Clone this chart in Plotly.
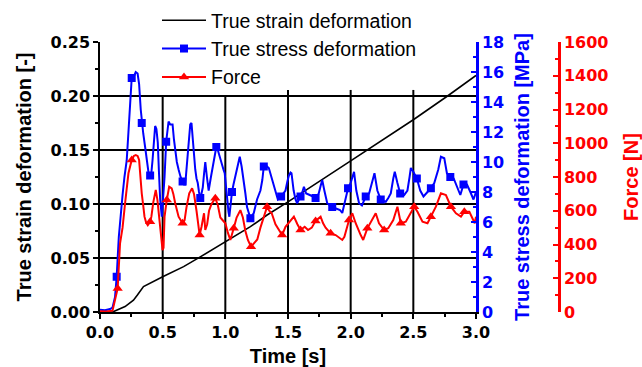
import numpy as np
import plotly.graph_objects as go

# ---- data ----
strain_t = [0.0, 0.1, 0.2, 0.267, 0.3, 0.347, 0.5, 0.667, 0.8, 1.0, 1.2, 1.333, 1.5,
            2.0, 2.24, 2.5, 2.773, 3.0]
strain = [0.0, 0.0, 0.005, 0.011, 0.016, 0.0235, 0.0327, 0.042, 0.051, 0.065, 0.079,
          0.0898, 0.102, 0.140, 0.158, 0.178, 0.200, 0.219]

stress_t = [0.00, 0.04, 0.08, 0.10, 0.12, 0.133, 0.15, 0.168, 0.18, 0.195, 0.213, 0.227,
            0.24, 0.253, 0.27, 0.285, 0.30, 0.312, 0.325, 0.333, 0.345, 0.36, 0.373, 0.387,
            0.40, 0.41, 0.419, 0.43, 0.44, 0.45, 0.461, 0.47, 0.48, 0.493, 0.505, 0.515,
            0.528, 0.537, 0.547, 0.56, 0.579, 0.59, 0.60, 0.613, 0.627, 0.643, 0.659, 0.67,
            0.68, 0.69, 0.70, 0.71, 0.72, 0.73, 0.741, 0.75, 0.76, 0.77, 0.78, 0.79, 0.80,
            0.81, 0.82, 0.83, 0.84, 0.853, 0.867, 0.885, 0.907, 0.918, 0.928, 0.94, 0.955,
            0.973, 0.985, 0.995, 1.005, 1.013, 1.025, 1.032, 1.043, 1.053, 1.065, 1.08, 1.10,
            1.115, 1.13, 1.143, 1.16, 1.173, 1.187, 1.20, 1.227, 1.253, 1.28, 1.295, 1.307,
            1.32, 1.347, 1.36, 1.373, 1.395, 1.419, 1.445, 1.465, 1.48, 1.495, 1.507, 1.52,
            1.528, 1.545, 1.56, 1.573, 1.60, 1.615, 1.627, 1.645, 1.66, 1.68, 1.70, 1.72,
            1.745, 1.76, 1.773, 1.79, 1.813, 1.853, 1.893, 1.915, 1.933, 1.96, 1.979, 2.00,
            2.013, 2.027, 2.045, 2.067, 2.09, 2.12, 2.147, 2.173, 2.19, 2.213, 2.24, 2.26,
            2.28, 2.30, 2.32, 2.34, 2.352, 2.373, 2.395, 2.427, 2.453, 2.47, 2.48, 2.50,
            2.528, 2.555, 2.581, 2.613, 2.64, 2.667, 2.699, 2.72, 2.747, 2.768, 2.795, 2.822,
            2.848, 2.875, 2.90, 2.928, 2.955, 2.98, 3.00]
stress = [0.15, 0.12, 0.2, 0.3, 1.0, 2.35, 5.0, 7.0, 7.8, 9.0, 10.1, 12.0,
          13.9, 15.6, 15.7, 16.0, 15.9, 15.2, 13.5, 12.6, 11.9, 11.0, 10.1, 9.3,
          9.1, 9.3, 10.1, 11.3, 12.4, 12.2, 11.3, 9.4, 7.5, 6.35, 7.6, 9.0,
          11.35, 12.2, 12.7, 12.5, 12.5, 11.5, 10.8, 10.0, 9.5, 9.0, 8.7, 8.5,
          8.5, 9.6, 10.8, 11.9, 12.5, 12.6, 11.2, 10.3, 9.5, 8.9, 8.6, 8.0, 7.6,
          7.9, 8.3, 9.2, 10.0, 9.0, 8.1, 9.0, 10.1, 10.8, 11.0, 10.8, 10.3,
          9.9, 9.5, 9.25, 8.3, 7.5, 6.7, 6.35, 7.3, 8.0, 8.5, 9.0, 9.8,
          10.35, 9.7, 9.0, 7.9, 7.0, 6.6, 6.25, 6.6, 7.5, 8.1, 8.8, 9.7,
          9.8, 9.6, 9.2, 8.8, 8.1, 7.5, 7.7, 7.9, 8.1, 8.7, 9.1, 9.3,
          9.25, 8.1, 7.5, 7.25, 7.7, 8.0, 8.35, 7.9, 7.85, 7.8, 7.7, 7.6,
          7.9, 8.4, 8.8, 8.1, 7.25, 7.0, 6.9, 6.8, 6.6, 7.5, 8.25, 8.6,
          9.0, 9.35, 8.1, 7.25, 7.1, 7.7, 7.9, 8.8, 9.25, 8.1, 7.5, 7.4,
          7.35, 7.6, 7.9, 8.9, 9.35, 8.6, 7.9, 7.8, 8.1, 9.0, 9.6, 9.35,
          8.9, 8.1, 7.7, 8.0, 8.25, 8.6, 9.5, 10.35, 10.25, 9.25, 9.0, 8.9,
          8.35, 7.8, 8.5, 8.5, 8.0, 7.5, 8.0]
stress_marker_t = [0.133, 0.253, 0.333, 0.40, 0.528, 0.659, 0.80, 0.928, 1.053, 1.20,
                   1.307, 1.445, 1.60, 1.72, 1.853, 1.979, 2.12, 2.24, 2.395, 2.528,
                   2.64, 2.795, 2.90]

force_t = [0.00, 0.05, 0.10, 0.12, 0.141, 0.16, 0.18, 0.20, 0.213, 0.227, 0.253, 0.27,
           0.285, 0.30, 0.312, 0.322, 0.333, 0.345, 0.355, 0.368, 0.381, 0.40, 0.41,
           0.425, 0.435, 0.445, 0.458, 0.472, 0.485, 0.499, 0.507, 0.515, 0.533, 0.552,
           0.572, 0.585, 0.60, 0.627, 0.659, 0.675, 0.69, 0.712, 0.735, 0.75, 0.77, 0.785,
           0.795, 0.81, 0.83, 0.84, 0.855, 0.87, 0.89, 0.92, 0.94, 0.96, 1.00, 1.02, 1.04,
           1.067, 1.09, 1.12, 1.14, 1.16, 1.18, 1.205, 1.23, 1.255, 1.28, 1.307, 1.333,
           1.35, 1.37, 1.40, 1.425, 1.453, 1.48, 1.51, 1.547, 1.575, 1.60, 1.633, 1.66,
           1.69, 1.72, 1.76, 1.78, 1.80, 1.84, 1.88, 1.915, 1.933, 1.95, 1.987, 2.013,
           2.04, 2.08, 2.10, 2.133, 2.17, 2.20, 2.226, 2.267, 2.30, 2.34, 2.373, 2.40,
           2.44, 2.48, 2.507, 2.533, 2.573, 2.613, 2.64, 2.68, 2.72, 2.76, 2.80, 2.84,
           2.88, 2.907, 2.947, 2.973, 2.99, 3.00]
force = [5, 3, 8, 71, 140, 407, 500, 644, 740, 822, 901, 925,
         930, 925, 901, 800, 703, 630, 565, 530, 515, 535, 565,
         650, 700, 723, 664, 560, 466, 367, 380, 565, 664, 743,
         733, 700, 644, 565, 526, 545, 620, 703, 733, 700, 600, 500,
         456, 505, 585, 486, 520, 600, 640, 674, 634, 560, 526, 470, 427,
         496, 560, 604, 560, 480, 427, 387, 410, 430, 500, 565, 624,
         600, 585, 520, 486, 456, 505, 530, 565, 520, 486, 505, 486,
         500, 540, 565, 526, 500, 466, 456, 440, 427, 446, 545, 585,
         526, 456, 427, 496, 545, 585, 526, 486, 496, 545, 624, 526,
         535, 585, 624, 594, 535, 526, 565, 624, 703, 693, 624, 585,
         565, 594, 594, 555, 526, 565]
force_marker_t = [0.141, 0.253, 0.40, 0.533, 0.659, 0.795, 0.92, 1.067, 1.205, 1.333,
                  1.453, 1.60, 1.72, 1.84, 1.987, 2.133, 2.267, 2.40, 2.507, 2.64,
                  2.80, 2.907]

x_ticks = [0.0, 0.5, 1.0, 1.5, 2.0, 2.5, 3.0]


def pick(t, v, when):
    """Return the samples of (t, v) nearest to the requested times."""
    t = np.asarray(t)
    idx = [int(np.argmin(np.abs(t - w))) for w in when]
    return [t[i] for i in idx], [v[i] for i in idx]


# ---- styling ----
BLUE = "#0000ff"
RED = "#ff0000"
TICK_FONT = dict(family="DejaVu Sans", size=16, weight="bold")
TITLE_FAMILY = "Liberation Sans, Arial, sans-serif"
# vertical grid lines stop just under the legend block
GRID_TOPS = [0.200, 0.200, 0.2056, 0.2056, 0.2056]

fig = go.Figure()

# strain on the left axis
fig.add_trace(go.Scatter(x=strain_t, y=strain, mode="lines", yaxis="y",
                         line=dict(color="black", width=1.6), showlegend=False,
                         hoverinfo="skip"))

# stress on the blue right axis
fig.add_trace(go.Scatter(x=stress_t, y=stress, mode="lines", yaxis="y2",
                         line=dict(color=BLUE, width=2), showlegend=False))
smx, smy = pick(stress_t, stress, stress_marker_t)
fig.add_trace(go.Scatter(x=smx, y=smy, mode="markers", yaxis="y2",
                         marker=dict(symbol="square", size=8, color=BLUE),
                         showlegend=False))

# force on the red right axis
fig.add_trace(go.Scatter(x=force_t, y=force, mode="lines", yaxis="y3",
                         line=dict(color=RED, width=2), showlegend=False))
fmx, fmy = pick(force_t, force, force_marker_t)
fig.add_trace(go.Scatter(x=fmx, y=fmy, mode="markers", yaxis="y3",
                         marker=dict(symbol="triangle-up", size=9, color=RED),
                         showlegend=False))

# legend entries
fig.add_trace(go.Scatter(x=[None], y=[None], mode="lines", name="True strain deformation",
                         line=dict(color="black", width=1.6)))
fig.add_trace(go.Scatter(x=[None], y=[None], mode="lines+markers",
                         name="True stress deformation", yaxis="y2",
                         line=dict(color=BLUE, width=2),
                         marker=dict(symbol="square", size=8, color=BLUE)))
fig.add_trace(go.Scatter(x=[None], y=[None], mode="lines+markers", name="Force",
                         yaxis="y3", line=dict(color=RED, width=2),
                         marker=dict(symbol="triangle-up", size=9, color=RED)))

# vertical grid lines at the inner x ticks
for xv, top in zip(x_ticks[1:-1], GRID_TOPS):
    fig.add_shape(type="line", xref="x", yref="y", x0=xv, x1=xv, y0=0, y1=top,
                  layer="below", line=dict(color="black", width=2))

L, R, T, B = 100, 60, 42, 55
W, H = 642, 367
pw = W - L - R
x_end = 376 / pw
red_pos = (559 - L) / pw

fig.update_layout(
    width=W, height=H,
    margin=dict(l=L, r=R, t=T, b=B, autoexpand=False),
    paper_bgcolor="white", plot_bgcolor="white",
    showlegend=True,
    legend=dict(x=(157 - L) / pw, y=(312 - 1) / 270, xanchor="left", yanchor="top",
                bgcolor="rgba(0,0,0,0)", borderwidth=0, itemwidth=44,
                font=dict(family=TITLE_FAMILY, size=19.5, color="black"),
                tracegroupgap=0),
    xaxis=dict(
        domain=[0, x_end], range=[0, 3], tickvals=x_ticks, tickformat=".1f",
        ticks="outside", ticklen=5, tickwidth=1.5, tickcolor="black",
        minor=dict(ticks="outside", dtick=0.25, ticklen=3, tickwidth=1.5, tickcolor="black"),
        showline=True, linecolor="black", linewidth=1.5,
        showgrid=False, zeroline=False,
        tickfont=dict(color="black", **TICK_FONT),
        title=dict(text="Time [s]", standoff=13,
                   font=dict(family=TITLE_FAMILY, size=20, weight="bold", color="black")),
        automargin=False,
    ),
    yaxis=dict(
        range=[0, 0.25], dtick=0.05, tickformat=".2f",
        ticks="outside", ticklen=5, tickwidth=1.5, tickcolor="black",
        minor=dict(ticks="outside", dtick=0.025, ticklen=3, tickwidth=1.5, tickcolor="black"),
        showline=True, linecolor="black", linewidth=1.5,
        showgrid=True, gridcolor="black", gridwidth=1.5, zeroline=False,
        tickfont=dict(color="black", **TICK_FONT),
        title=dict(text="True strain deformation [-]", standoff=14,
                   font=dict(family=TITLE_FAMILY, size=20, weight="bold", color="black")),
        automargin=False,
    ),
    yaxis2=dict(
        overlaying="y", side="right", anchor="x", range=[0, 18], dtick=2,
        ticks="inside", ticklen=5, tickwidth=2, tickcolor=BLUE,
        minor=dict(ticks="inside", dtick=1, ticklen=3, tickwidth=2, tickcolor=BLUE),
        showline=True, linecolor=BLUE, linewidth=2.5, showgrid=False, zeroline=False,
        tickfont=dict(color=BLUE, **TICK_FONT),
        title=dict(text="True stress deformation [MPa]", standoff=12,
                   font=dict(family=TITLE_FAMILY, size=20, weight="bold", color=BLUE)),
        automargin=False,
    ),
    yaxis3=dict(
        overlaying="y", side="right", anchor="free", position=red_pos,
        range=[0, 1600], dtick=200,
        ticks="inside", ticklen=5, tickwidth=2, tickcolor=RED,
        minor=dict(ticks="inside", dtick=100, ticklen=3, tickwidth=2, tickcolor=RED),
        showline=True, linecolor=RED, linewidth=2.5, showgrid=False, zeroline=False,
        tickfont=dict(color=RED, **TICK_FONT),
        title=dict(text="Force [N]", standoff=16,
                   font=dict(family=TITLE_FAMILY, size=20, weight="bold", color=RED)),
        automargin=False,
    ),
)

fig.write_html("out.html")
